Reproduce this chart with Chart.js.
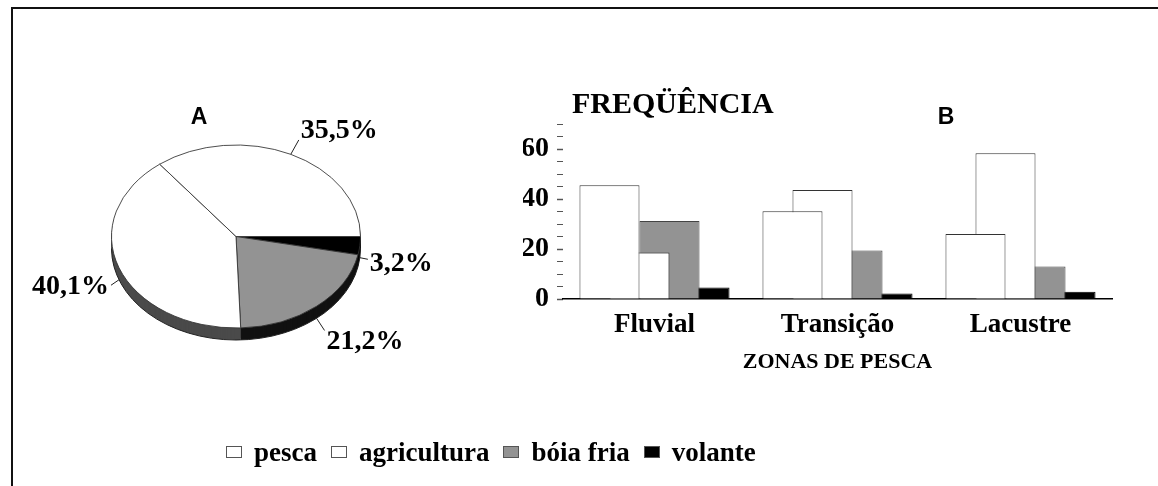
<!DOCTYPE html>
<html>
<head>
<meta charset="utf-8">
<script src="https://cdn.jsdelivr.net/npm/chart.js@4.4.1/dist/chart.umd.min.js"></script>
<style>
  html, body { margin: 0; padding: 0; background: #fff; }
  #wrap { position: relative; width: 1158px; height: 486px; overflow: hidden; }
  #frame { position: absolute; left: 11px; top: 7px; right: -10px; bottom: -10px; border-top: 2px solid #111; border-left: 2px solid #111; }
  #pie, #bars { position: absolute; left: 0; top: 0; }
  #legend { position: absolute; left: 226px; top: 436px; display: flex; align-items: center; font: bold 27px 'Liberation Serif', serif; color: #000; line-height: 32px; }
  #legend .item { display: flex; align-items: center; margin-right: 14px; }
  #legend .box { display: inline-block; width: 14px; height: 10px; border: 1px solid #555; margin-right: 12px; }
</style>
</head>
<body>
<div id="wrap">
  <div id="frame"></div>
  <canvas id="pie" width="472" height="473"></canvas>
  <canvas id="bars" width="1158" height="486"></canvas>
  <div id="legend"></div>
</div>
<script>
// data
const zones = ['Fluvial', 'Transição', 'Lacustre'];
const seriesNames = ['pesca', 'agricultura', 'bóia fria', 'volante'];
const pesca = [45.5, 35.1, 26.0];
const agricultura = [18.6, 43.6, 58.3];
const boiaFria = [31.2, 19.4, 13.0];
const volante = [4.6, 2.2, 2.9];
const piePercent = [35.5, 40.1, 21.2, 3.2]; // pesca, agricultura, bóia fria, volante
const yLabels = [0, 20, 40, 60];

const fills = ['#ffffff', '#ffffff', '#939393', '#000000'];
const borders = ['#333', '#333', '#444', '#000'];
const pieSide = ['#555555', '#4a4a4a', '#111111', '#000000'];
const serif = "'Liberation Serif', 'Times New Roman', serif";
const sans = "'Liberation Sans', Arial, sans-serif";

const tilt = 0.735, depth = 12;

// legend (html)
const legend = document.getElementById('legend');
seriesNames.forEach((name, i) => {
    legend.insertAdjacentHTML('beforeend',
        `<div class="item"><span class="box" style="background:${fills[i]}"></span>${name}</div>`);
});

const pctText = v => v.toFixed(1).replace('.', ',') + '%';

const pie3d = {
    id: 'pie3d',
    beforeDatasetsDraw(chart) {
        const ctx = chart.ctx;
        const arcs = chart.getDatasetMeta(0).data;
        const sides = [...pieSide].reverse();
        for (let d = depth; d > 0; d--) {
            arcs.forEach((arc, i) => {
                ctx.save();
                ctx.translate(arc.x, arc.y + d);
                ctx.scale(1, tilt);
                ctx.beginPath();
                ctx.moveTo(0, 0);
                ctx.arc(0, 0, arc.outerRadius, arc.startAngle, arc.endAngle);
                ctx.closePath();
                ctx.fillStyle = sides[i];
                ctx.fill();
                ctx.restore();
            });
        }
        const {x, y, outerRadius} = arcs[0];
        ctx.save();
        ctx.translate(x, y + depth);
        ctx.scale(1, tilt);
        ctx.beginPath();
        ctx.arc(0, 0, outerRadius, 0, Math.PI);
        ctx.restore();
        ctx.strokeStyle = '#222';
        ctx.lineWidth = 1;
        ctx.stroke();
        // squash the top face
        ctx.save();
        ctx.translate(x, y);
        ctx.scale(1, tilt);
        ctx.translate(-x, -y);
    },
    afterDatasetsDraw(chart) {
        const ctx = chart.ctx;
        ctx.restore();
        const arcs = chart.getDatasetMeta(0).data;
        const texts = [...piePercent].reverse().map(pctText);
        ctx.save();
        ctx.font = `bold 28px ${serif}`;
        ctx.textBaseline = 'middle';
        ctx.fillStyle = '#000';
        ctx.strokeStyle = '#222';
        ctx.lineWidth = 1;
        arcs.forEach((arc, i) => {
            const mid = (arc.startAngle + arc.endAngle) / 2;
            const c = Math.cos(mid), s = Math.sin(mid);
            const rx = arc.x + arc.outerRadius * c;
            const ry = arc.y + arc.outerRadius * tilt * s + (s > 0 ? depth : 0);
            const side = c >= 0 ? 1 : -1;
            ctx.beginPath();
            ctx.moveTo(rx, ry);
            ctx.lineTo(rx + side * 8, ry + s * 16);
            ctx.stroke();
            ctx.textAlign = side > 0 ? 'left' : 'right';
            ctx.fillText(texts[i], rx + side * 10, ry + s * 28 + c * 3);
        });
        ctx.font = `bold 23px ${sans}`;
        ctx.textAlign = 'center';
        ctx.textBaseline = 'alphabetic';
        ctx.fillText('A', 199, 124);
        ctx.restore();
    }
};

new Chart(document.getElementById('pie'), {
    type: 'pie',
    data: {
        labels: [...seriesNames].reverse(),
        datasets: [{
            data: [...piePercent].reverse(),
            backgroundColor: [...fills].reverse(),
            borderColor: '#333',
            borderWidth: 1
        }]
    },
    options: {
        responsive: false,
        animation: false,
        rotation: 90,
        radius: 124.5,
        events: [],
        plugins: { legend: { display: false }, tooltip: { enabled: false } }
    },
    plugins: [pie3d]
});

const barTitles = {
    id: 'barTitles',
    afterDraw(chart) {
        const {ctx, chartArea} = chart;
        ctx.save();
        ctx.fillStyle = '#000';
        ctx.textBaseline = 'alphabetic';
        ctx.textAlign = 'left';
        ctx.font = `bold 30px ${serif}`;
        ctx.fillText('FREQÜÊNCIA', chartArea.left + 9, chartArea.top - 11);
        ctx.font = `bold 23px ${sans}`;
        ctx.textAlign = 'center';
        ctx.fillText('B', 946, 124);
        ctx.restore();
    }
};

const series = [pesca, agricultura, boiaFria, volante];

new Chart(document.getElementById('bars'), {
    type: 'bar',
    data: {
        labels: zones,
        datasets: series.map((vals, i) => ({
            label: seriesNames[i],
            data: vals,
            backgroundColor: fills[i],
            borderColor: borders[i],
            borderWidth: 1
        }))
    },
    options: {
        responsive: false,
        animation: false,
        events: [],
        layout: { padding: { left: 523, right: 46, top: 124, bottom: 107 } },
        datasets: { bar: { categoryPercentage: 0.656, barPercentage: 2 } },
        plugins: { legend: { display: false }, tooltip: { enabled: false } },
        scales: {
            x: {
                grid: { display: false, drawTicks: false },
                border: { display: true, color: '#000', width: 1.5 },
                ticks: { color: '#000', font: { family: serif, size: 27, weight: 'bold' }, padding: 10 },
                title: { display: true, text: 'ZONAS DE PESCA', color: '#000', font: { family: serif, size: 22, weight: 'bold' }, padding: { top: 0, bottom: 3 } },
                afterFit: ax => { ax.height = 80; }
            },
            y: {
                min: 0,
                max: 70,
                grid: { drawOnChartArea: false, tickLength: 6, tickColor: '#555', tickWidth: c => (c.tick && c.tick.value % 20 === 0 ? 1.5 : 1) },
                border: { display: false },
                ticks: {
                    stepSize: 5,
                    autoSkip: false,
                    padding: 8,
                    color: '#000',
                    font: { family: serif, size: 28, weight: 'bold' },
                    callback: v => (yLabels.includes(v) ? v : '')
                },
                afterFit: ax => { ax.width = 40; }
            }
        }
    },
    plugins: [barTitles]
});
</script>
</body>
</html>
